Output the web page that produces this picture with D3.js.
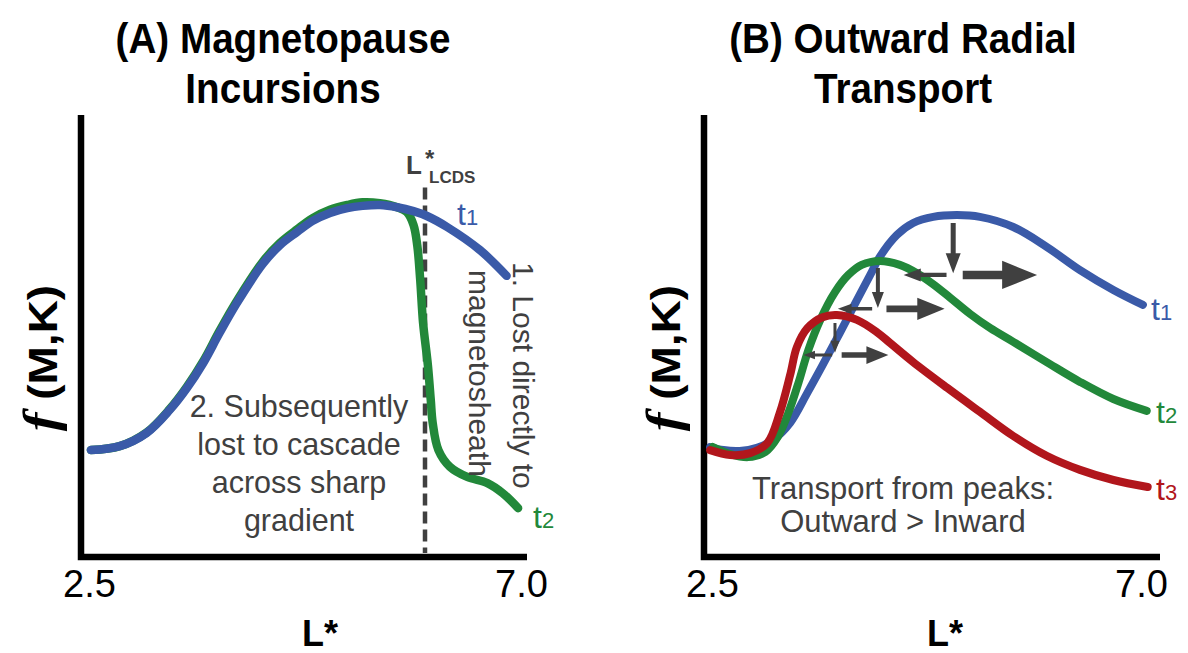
<!DOCTYPE html>
<html>
<head>
<meta charset="utf-8">
<script src="https://cdn.jsdelivr.net/npm/d3@7"></script>
<style>
  body { margin: 0; background: #fff; }
  svg { display: block; }
</style>
</head>
<body>
<svg id="chart" width="1188" height="653"></svg>
<script>
// ---- shared axis ticks ----
const tickValues = [2.5, 7.0];
const tickLabels = ["2.5", "7.0"];

// ---- Panel A: magnetopause incursions, [L*, f] ----
const incursionT1 = [
  [2.52, 0.243], [2.82, 0.252], [3.10, 0.282], [3.34, 0.334], [3.52, 0.384],
  [3.69, 0.441], [3.86, 0.509], [4.04, 0.577], [4.31, 0.666],
  [4.49, 0.709], [4.67, 0.739], [4.83, 0.764], [5.01, 0.782], [5.19, 0.793],
  [5.35, 0.798], [5.53, 0.800], [5.71, 0.795], [5.88, 0.786], [6.02, 0.775],
  [6.23, 0.750], [6.57, 0.698], [6.85, 0.639]
];
const incursionT2 = [
  [2.52, 0.243], [2.82, 0.252], [3.10, 0.283], [3.34, 0.336], [3.52, 0.387],
  [3.69, 0.445], [3.86, 0.514], [4.04, 0.582], [4.31, 0.671],
  [4.49, 0.714], [4.67, 0.745], [4.83, 0.770], [5.01, 0.789], [5.19, 0.800],
  [5.35, 0.806], [5.53, 0.804], [5.71, 0.795], [5.81, 0.784], [5.88, 0.755],
  [5.92, 0.707], [5.95, 0.630], [5.98, 0.532], [6.03, 0.436], [6.06, 0.357],
  [6.08, 0.305], [6.14, 0.243], [6.26, 0.205], [6.44, 0.182], [6.65, 0.168],
  [6.81, 0.145], [6.97, 0.111]
];
const lcdsL = 6.0;
const lcdsTopF = 0.84;

// ---- Panel B: outward radial transport, [L*, f] ----
const transportT1 = [
  [2.48, 0.250], [2.62, 0.243], [2.79, 0.241], [2.97, 0.248], [3.14, 0.266],
  [3.32, 0.305], [3.50, 0.373], [3.66, 0.436], [3.84, 0.509], [4.02, 0.584],
  [4.16, 0.641], [4.26, 0.682], [4.44, 0.732], [4.61, 0.759], [4.82, 0.773],
  [5.07, 0.777], [5.31, 0.773], [5.66, 0.750], [6.01, 0.705], [6.36, 0.652],
  [6.71, 0.607], [7.02, 0.573]
];
const transportT2 = [
  [2.51, 0.250], [2.69, 0.234], [2.88, 0.227], [3.06, 0.239], [3.19, 0.273],
  [3.30, 0.327], [3.41, 0.398], [3.51, 0.470], [3.64, 0.541], [3.79, 0.602],
  [3.93, 0.641], [4.07, 0.664], [4.26, 0.673], [4.47, 0.664], [4.65, 0.645],
  [4.82, 0.620], [5.00, 0.589], [5.21, 0.552], [5.42, 0.520], [5.66, 0.489],
  [6.01, 0.443], [6.36, 0.398], [6.71, 0.359], [7.06, 0.332]
];
const transportT3 = [
  [2.48, 0.243], [2.69, 0.232], [2.90, 0.236], [3.08, 0.259], [3.21, 0.327],
  [3.32, 0.414], [3.39, 0.477], [3.50, 0.520], [3.66, 0.545], [3.81, 0.550],
  [4.02, 0.539], [4.23, 0.511], [4.37, 0.486], [4.61, 0.443], [4.97, 0.384],
  [5.31, 0.330], [5.66, 0.275], [6.01, 0.230], [6.36, 0.198], [6.71, 0.175],
  [7.07, 0.159]
];
// flux arrows under each peak (t1, t2, t3)
const peakArrowL   = [5.03, 4.24, 3.79];
const peakArrowTop = [0.759, 0.657, 0.532];
const peakArrowBot = [0.645, 0.566, 0.464];
const sideArrowF   = [0.641, 0.564, 0.459];
const outwardFrom  = [5.13, 4.33, 3.86];
const outwardTo    = [5.91, 4.94, 4.35];
const inwardFrom   = [4.96, 4.18, 3.76];
const inwardTo     = [4.51, 3.82, 3.46];

const BLUE = "#3a5aa8", GREEN = "#22883a", RED = "#b1161c", GREY = "#404040";
const SANS = "'Liberation Sans', Arial, sans-serif";

const svg = d3.select("#chart");

function panel(cfg) {
  const g = svg.append("g");
  const x = d3.scaleLinear().domain([2.5, 7.0]).range([cfg.x0, cfg.x1]);
  const y = d3.scaleLinear().domain([0, 1]).range([557, 117]);

  // two-line bold title, slightly condensed
  cfg.title.forEach((t, i) => {
    g.append("text")
      .attr("transform", `translate(${cfg.titleX},${53 + i * 50}) scale(0.92,1)`)
      .attr("text-anchor", "middle").attr("font-family", SANS)
      .attr("font-weight", "bold").attr("font-size", 42).attr("fill", "#000").text(t);
  });

  // tick labels via a bottom axis with no tick marks
  const ax = g.append("g").attr("transform", "translate(0,567)")
    .call(d3.axisBottom(x).tickValues(tickValues).tickSize(0)
      .tickFormat((d, i) => tickLabels[i]));
  ax.select(".domain").remove();
  ax.selectAll("text").attr("font-family", SANS).attr("font-size", 38)
    .attr("fill", "#000").attr("dy", "0.71em");

  // frame lines
  g.append("path")
    .attr("d", `M${cfg.frameL},115 V557 H${cfg.frameR}`)
    .attr("fill", "none").attr("stroke", "#000").attr("stroke-width", 6.5)
    .attr("stroke-linejoin", "miter");

  // axis labels
  g.append("text").attr("x", cfg.xLabelX).attr("y", 646).attr("text-anchor", "middle")
    .attr("font-family", SANS).attr("font-weight", "bold").attr("font-size", 36).text("L*");

  const yl = g.append("text")
    .attr("transform", `translate(${cfg.yLabelX},358) rotate(-90) scale(1,0.88)`)
    .attr("text-anchor", "middle").attr("fill", "#000");
  yl.append("tspan").attr("font-family", "'Liberation Serif', serif")
    .attr("font-style", "italic").attr("font-weight", "bold").attr("font-size", 56).text("f");
  yl.append("tspan").attr("font-family", SANS).attr("font-weight", "bold")
    .attr("font-size", 46).text(" (M,K)");

  return { g, x, y };
}

function drawCurve(p, data, color, width) {
  const line = d3.line().x(d => p.x(d[0])).y(d => p.y(d[1]))
    .curve(d3.curveCatmullRom.alpha(0.5));
  p.g.append("path").datum(data).attr("d", line)
    .attr("fill", "none").attr("stroke", color).attr("stroke-width", width)
    .attr("stroke-linecap", "round").attr("stroke-linejoin", "round");
}

function tLabel(p, x, y, sub, color) {
  const t = p.g.append("text").attr("x", x).attr("y", y)
    .attr("font-family", SANS).attr("font-size", 32).attr("fill", color);
  t.append("tspan").text("t");
  t.append("tspan").attr("font-size", 22).text(sub);
}

// filled arrow from (x1,y1) to its tip at (x2,y2)
function arrow(g, x1, y1, x2, y2, shaftW, headL, headW) {
  const len = Math.hypot(x2 - x1, y2 - y1);
  const ux = (x2 - x1) / len, uy = (y2 - y1) / len;
  const nx = -uy, ny = ux;
  const bx = x2 - ux * headL, by = y2 - uy * headL;
  const pts = [
    [x1 + nx * shaftW / 2, y1 + ny * shaftW / 2],
    [bx + nx * shaftW / 2, by + ny * shaftW / 2],
    [bx + nx * headW / 2, by + ny * headW / 2],
    [x2, y2],
    [bx - nx * headW / 2, by - ny * headW / 2],
    [bx - nx * shaftW / 2, by - ny * shaftW / 2],
    [x1 - nx * shaftW / 2, y1 - ny * shaftW / 2]
  ];
  g.append("polygon").attr("points", pts.map(q => q.join(",")).join(" ")).attr("fill", GREY);
}

// ================= Panel A =================
const A = panel({
  x0: 89, x1: 521, frameL: 81, frameR: 527, titleX: 283,
  title: ["(A) Magnetopause", "Incursions"], xLabelX: 320, yLabelX: 57
});

// last closed drift shell marker
A.g.append("line")
  .attr("x1", A.x(lcdsL)).attr("x2", A.x(lcdsL))
  .attr("y1", A.y(lcdsTopF)).attr("y2", A.y(0) - 4)
  .attr("stroke", GREY).attr("stroke-width", 4.5).attr("stroke-dasharray", "12,6");

A.g.append("text").attr("x", 406).attr("y", 174).attr("font-family", SANS)
  .attr("font-weight", "bold").attr("font-size", 26).attr("fill", GREY).text("L");
A.g.append("text").attr("x", 425).attr("y", 167).attr("font-family", SANS)
  .attr("font-weight", "bold").attr("font-size", 24).attr("fill", GREY).text("*");
A.g.append("text").attr("x", 429).attr("y", 183).attr("font-family", SANS)
  .attr("font-weight", "bold").attr("font-size", 17).attr("fill", GREY).text("LCDS");

drawCurve(A, incursionT2, GREEN, 8.5);
drawCurve(A, incursionT1, BLUE, 8.5);
tLabel(A, 457, 225, "1", BLUE);
tLabel(A, 533, 528, "2", GREEN);

const cascade = ["2. Subsequently", "lost to cascade", "across sharp", "gradient"];
cascade.forEach((s, i) => {
  A.g.append("text").attr("x", 299).attr("y", 417 + i * 38).attr("text-anchor", "middle")
    .attr("font-family", SANS).attr("font-size", 30.5).attr("fill", GREY).text(s);
});
A.g.append("text").attr("transform", "translate(513,262) rotate(90)")
  .attr("font-family", SANS).attr("font-size", 30).attr("fill", GREY).text("1. Lost directly to");
A.g.append("text").attr("transform", "translate(469,270) rotate(90)")
  .attr("font-family", SANS).attr("font-size", 30).attr("fill", GREY).text("magnetosheath");

// ================= Panel B =================
const B = panel({
  x0: 712, x1: 1141, frameL: 704, frameR: 1160, titleX: 903,
  title: ["(B) Outward Radial", "Transport"], xLabelX: 945, yLabelX: 680
});

drawCurve(B, transportT1, BLUE, 8);
drawCurve(B, transportT2, GREEN, 8);
drawCurve(B, transportT3, RED, 8);
tLabel(B, 1151, 320, "1", BLUE);
tLabel(B, 1156, 423, "2", GREEN);
tLabel(B, 1156, 500, "3", RED);

peakArrowL.forEach((L, i) => {
  const xd = B.x(L);
  const dl = B.y(peakArrowBot[i]) - B.y(peakArrowTop[i]);
  arrow(B.g, xd, B.y(peakArrowTop[i]), xd, B.y(peakArrowBot[i]), dl * 0.1, dl * 0.4, dl * 0.3);
  const ya = B.y(sideArrowF[i]);
  const ol = B.x(outwardTo[i]) - B.x(outwardFrom[i]);
  arrow(B.g, B.x(outwardFrom[i]), ya, B.x(outwardTo[i]), ya, ol * 0.115, ol * 0.47, ol * 0.38);
  const il = B.x(inwardFrom[i]) - B.x(inwardTo[i]);
  arrow(B.g, B.x(inwardFrom[i]), ya, B.x(inwardTo[i]), ya, il * 0.1, il * 0.4, il * 0.3);
});

["Transport from peaks:", "Outward > Inward"].forEach((s, i) => {
  B.g.append("text").attr("x", 903).attr("y", 499 + i * 33).attr("text-anchor", "middle")
    .attr("font-family", SANS).attr("font-size", 31).attr("fill", GREY).text(s);
});
</script>
</body>
</html>
